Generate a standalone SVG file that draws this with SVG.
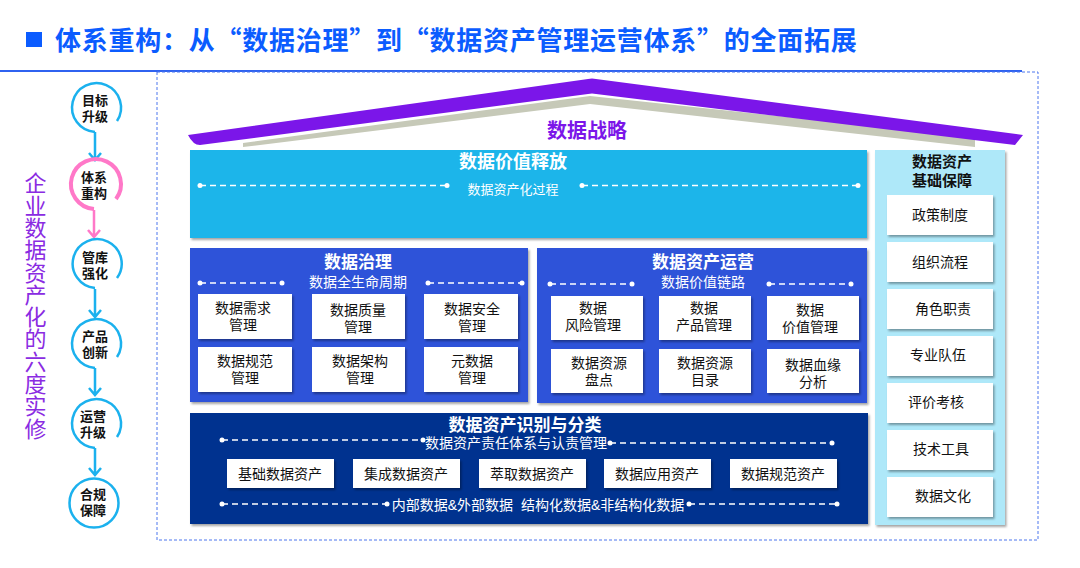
<svg xmlns="http://www.w3.org/2000/svg" width="1080" height="568" viewBox="0 0 1080 568">
<defs>
<style>
.t{font-family:"Liberation Sans","Noto Sans CJK SC",sans-serif}
.tc{font-family:"Noto Sans CJK SC","Liberation Sans",sans-serif}
.b{font-weight:bold}
.w{fill:#fff}
.k{fill:#111}
.box{fill:#fff;filter:url(#sh)}
.dl{stroke:#fff;stroke-width:1.3;stroke-dasharray:6 4;fill:none}
.dot{fill:#fff}
.circ{fill:none;stroke:#1bb1ee;stroke-width:2.5}
.arr{stroke:#1bb1ee;stroke-width:2.5;fill:none}
</style>
<filter id="sh" x="-10%" y="-10%" width="130%" height="140%">
<feDropShadow dx="1.5" dy="2" stdDeviation="1.2" flood-color="#000" flood-opacity="0.35"/>
</filter>
</defs>
<rect width="1080" height="568" fill="#fff"/>

<g id="title">
<rect x="26" y="32" width="16" height="15" fill="#0b5cff"/>
<text x="55" y="50" class="tc b" font-size="26" letter-spacing="0.75" fill="#0b5cff">体系重构：从“数据治理”到“数据资产管理运营体系”的全面拓展</text>
<line x1="0" y1="71" x2="1022" y2="71" stroke="#2f62f0" stroke-width="2"/>
<rect x="157" y="72" width="881" height="468" fill="none" stroke="#4d76ee" stroke-width="1" stroke-dasharray="3 2"/>
</g>

<g id="side-title">
<text x="33" y="172" class="t" font-size="22" letter-spacing="0.3" fill="#8a2be2" writing-mode="vertical-rl" style="writing-mode:vertical-rl">企业数据资产化的六度实修</text>
</g>

<g id="connectors">
<path class="arr" d="M95 132 V160 M89 153 L95 160 L101 153"/>
<path d="M94 210 V237 M88 230 L94 237 L100 230" stroke="#ff78c8" stroke-width="2.5" fill="none"/>
<path class="arr" d="M95 289 V317 M89 310 L95 317 L101 310"/>
<path class="arr" d="M95 368 V395 M89 388 L95 395 L101 388"/>
<path class="arr" d="M95 448 V475 M89 468 L95 475 L101 468"/>
</g>

<g id="step1">
<path class="circ" d="M95 132 A24.5 24.5 0 1 1 117 121"/>
<text class="t b k" font-size="13" text-anchor="middle"><tspan x="95" y="105">目标</tspan><tspan x="95" y="121">升级</tspan></text>
</g>
<g id="step2">
<path d="M94 209 A25 25 0 1 1 116 199" fill="none" stroke="#ff78c8" stroke-width="4"/>
<text class="t b k" font-size="13" text-anchor="middle"><tspan x="94" y="182">体系</tspan><tspan x="94" y="198">重构</tspan></text>
</g>
<g id="step3">
<path class="circ" d="M95 288 A24.5 24.5 0 1 1 117 278"/>
<text class="t b k" font-size="13" text-anchor="middle"><tspan x="95" y="262">管库</tspan><tspan x="95" y="278">强化</tspan></text>
</g>
<g id="step4">
<path class="circ" d="M95 368 A24.5 24.5 0 1 1 117 357"/>
<text class="t b k" font-size="13" text-anchor="middle"><tspan x="95" y="341">产品</tspan><tspan x="95" y="357">创新</tspan></text>
</g>
<g id="step5">
<path class="circ" d="M95 448 A24.5 24.5 0 1 1 117 437"/>
<text class="t b k" font-size="13" text-anchor="middle"><tspan x="93" y="421">运营</tspan><tspan x="93" y="437">升级</tspan></text>
</g>
<g id="step6">
<circle class="circ" cx="94" cy="503" r="24.5"/>
<text class="t b k" font-size="13" text-anchor="middle"><tspan x="93" y="499">合规</tspan><tspan x="93" y="515">保障</tspan></text>
</g>

<g id="roof">
<path d="M243 143 L590 96 L975 137 L975 147 L590 104 L243 147 Z" fill="#c6c9b8"/>
<path d="M188 135 L588 79 Q592 78 596 79 L1023 135 L1015 145 L596 94 Q592 93 588 94 L200 145 Q193 145 188 135 Z" fill="#7b16e9"/>
<text x="587" y="138" class="t b" font-size="20" fill="#7b16e9" text-anchor="middle">数据战略</text>
</g>

<g id="value-release">
<rect x="190" y="150" width="677" height="88" fill="#1fb5ea" filter="url(#sh)"/>
<text x="513" y="168" class="t b w" font-size="18" text-anchor="middle">数据价值释放</text>
<text x="513" y="194" class="t w" font-size="13" text-anchor="middle">数据资产化过程</text>
<line class="dl" x1="200" y1="185.5" x2="447" y2="185.5"/>
<circle class="dot" cx="200" cy="185.5" r="2.5"/><circle class="dot" cx="447" cy="185.5" r="2.5"/>
<line class="dl" x1="582" y1="185.5" x2="858" y2="185.5"/>
<circle class="dot" cx="582" cy="185.5" r="2.5"/><circle class="dot" cx="858" cy="185.5" r="2.5"/>
</g>

<g id="foundation">
<rect x="875" y="150" width="130" height="375" fill="#aee8f9" filter="url(#sh)"/>
<text class="t b k" font-size="15" text-anchor="middle"><tspan x="942" y="167">数据资产</tspan><tspan x="942" y="186">基础保障</tspan></text>
<rect class="box" x="887" y="195" width="106" height="40"/>
<text x="940" y="220" class="t k" font-size="14" text-anchor="middle">政策制度</text>
<rect class="box" x="887" y="242" width="106" height="40"/>
<text x="940" y="267" class="t k" font-size="14" text-anchor="middle">组织流程</text>
<rect class="box" x="887" y="289" width="106" height="40"/>
<text x="943" y="314" class="t k" font-size="14" text-anchor="middle">角色职责</text>
<rect class="box" x="887" y="336" width="106" height="40"/>
<text x="938" y="360" class="t k" font-size="14" text-anchor="middle">专业队伍</text>
<rect class="box" x="887" y="383" width="106" height="40"/>
<text x="936" y="407" class="t k" font-size="14" text-anchor="middle">评价考核</text>
<rect class="box" x="887" y="430" width="106" height="40"/>
<text x="941" y="454" class="t k" font-size="14" text-anchor="middle">技术工具</text>
<rect class="box" x="887" y="477" width="106" height="40"/>
<text x="943" y="501" class="t k" font-size="14" text-anchor="middle">数据文化</text>
</g>

<g id="governance">
<rect x="190" y="248" width="338" height="154" fill="#2e52d9" filter="url(#sh)"/>
<text x="358" y="268" class="t b w" font-size="17" text-anchor="middle">数据治理</text>
<text x="358" y="287" class="t w" font-size="14" text-anchor="middle">数据全生命周期</text>
<line class="dl" x1="200" y1="283" x2="282" y2="283"/>
<circle class="dot" cx="200" cy="283" r="2.5"/><circle class="dot" cx="282" cy="283" r="2.5"/>
<line class="dl" x1="428" y1="283" x2="522" y2="283"/>
<circle class="dot" cx="428" cy="283" r="2.5"/><circle class="dot" cx="522" cy="283" r="2.5"/>
<rect class="box" x="198" y="294" width="94" height="45"/>
<text class="t k" font-size="14" text-anchor="middle"><tspan x="243" y="313">数据需求</tspan><tspan x="243" y="330">管理</tspan></text>
<rect class="box" x="312" y="294" width="93" height="45"/>
<text class="t k" font-size="14" text-anchor="middle"><tspan x="358" y="315">数据质量</tspan><tspan x="358" y="332">管理</tspan></text>
<rect class="box" x="424" y="294" width="94" height="45"/>
<text class="t k" font-size="14" text-anchor="middle"><tspan x="472" y="314">数据安全</tspan><tspan x="472" y="331">管理</tspan></text>
<rect class="box" x="198" y="347" width="94" height="45"/>
<text class="t k" font-size="14" text-anchor="middle"><tspan x="245" y="366">数据规范</tspan><tspan x="245" y="383">管理</tspan></text>
<rect class="box" x="312" y="347" width="93" height="45"/>
<text class="t k" font-size="14" text-anchor="middle"><tspan x="360" y="366">数据架构</tspan><tspan x="360" y="383">管理</tspan></text>
<rect class="box" x="424" y="347" width="94" height="45"/>
<text class="t k" font-size="14" text-anchor="middle"><tspan x="472" y="366">元数据</tspan><tspan x="472" y="383">管理</tspan></text>
</g>

<g id="operation">
<rect x="537" y="248" width="330" height="155" fill="#2e52d9" filter="url(#sh)"/>
<text x="703" y="268" class="t b w" font-size="17" text-anchor="middle">数据资产运营</text>
<text x="703" y="287" class="t w" font-size="14" text-anchor="middle">数据价值链路</text>
<line class="dl" x1="550" y1="284" x2="632" y2="284"/>
<circle class="dot" cx="550" cy="284" r="2.5"/><circle class="dot" cx="632" cy="284" r="2.5"/>
<line class="dl" x1="769" y1="284" x2="851" y2="284"/>
<circle class="dot" cx="769" cy="284" r="2.5"/><circle class="dot" cx="851" cy="284" r="2.5"/>
<rect class="box" x="551" y="296" width="92" height="44"/>
<text class="t k" font-size="14" text-anchor="middle"><tspan x="593" y="313">数据</tspan><tspan x="593" y="330">风险管理</tspan></text>
<rect class="box" x="659" y="296" width="92" height="44"/>
<text class="t k" font-size="14" text-anchor="middle"><tspan x="704" y="313">数据</tspan><tspan x="704" y="330">产品管理</tspan></text>
<rect class="box" x="767" y="296" width="92" height="44"/>
<text class="t k" font-size="14" text-anchor="middle"><tspan x="810" y="315">数据</tspan><tspan x="810" y="332">价值管理</tspan></text>
<rect class="box" x="551" y="349" width="92" height="44"/>
<text class="t k" font-size="14" text-anchor="middle"><tspan x="599" y="368">数据资源</tspan><tspan x="599" y="385">盘点</tspan></text>
<rect class="box" x="659" y="349" width="92" height="44"/>
<text class="t k" font-size="14" text-anchor="middle"><tspan x="705" y="368">数据资源</tspan><tspan x="705" y="385">目录</tspan></text>
<rect class="box" x="767" y="349" width="92" height="44"/>
<text class="t k" font-size="14" text-anchor="middle"><tspan x="813" y="370">数据血缘</tspan><tspan x="813" y="387">分析</tspan></text>
</g>

<g id="identification">
<rect x="190" y="413" width="678" height="111" fill="#00318f" filter="url(#sh)"/>
<text x="525" y="431" class="t b w" font-size="17" text-anchor="middle">数据资产识别与分类</text>
<text x="516" y="448" class="t w" font-size="14" text-anchor="middle">数据资产责任体系与认责管理</text>
<line class="dl" x1="222" y1="440" x2="423" y2="440"/>
<circle class="dot" cx="222" cy="440" r="2.5"/><circle class="dot" cx="423" cy="440" r="2.5"/>
<line class="dl" x1="610" y1="443" x2="832" y2="443"/>
<circle class="dot" cx="610" cy="443" r="2.5"/><circle class="dot" cx="832" cy="443" r="2.5"/>
<rect class="box" x="227" y="459" width="107" height="29"/>
<text x="280" y="479" class="t k" font-size="14" text-anchor="middle">基础数据资产</text>
<rect class="box" x="353" y="459" width="107" height="29"/>
<text x="406" y="479" class="t k" font-size="14" text-anchor="middle">集成数据资产</text>
<rect class="box" x="479" y="459" width="107" height="29"/>
<text x="532" y="479" class="t k" font-size="14" text-anchor="middle">萃取数据资产</text>
<rect class="box" x="604" y="459" width="107" height="29"/>
<text x="657" y="479" class="t k" font-size="14" text-anchor="middle">数据应用资产</text>
<rect class="box" x="730" y="459" width="107" height="29"/>
<text x="783" y="479" class="t k" font-size="14" text-anchor="middle">数据规范资产</text>
<text x="538" y="510" class="t w" font-size="14" text-anchor="middle" xml:space="preserve">内部数据&amp;外部数据  结构化数据&amp;非结构化数据</text>
<line class="dl" x1="222" y1="504" x2="387" y2="504"/>
<circle class="dot" cx="222" cy="504" r="2.5"/><circle class="dot" cx="387" cy="504" r="2.5"/>
<line class="dl" x1="689" y1="504" x2="837" y2="504"/>
<circle class="dot" cx="689" cy="504" r="2.5"/><circle class="dot" cx="837" cy="504" r="2.5"/>
</g>
</svg>
